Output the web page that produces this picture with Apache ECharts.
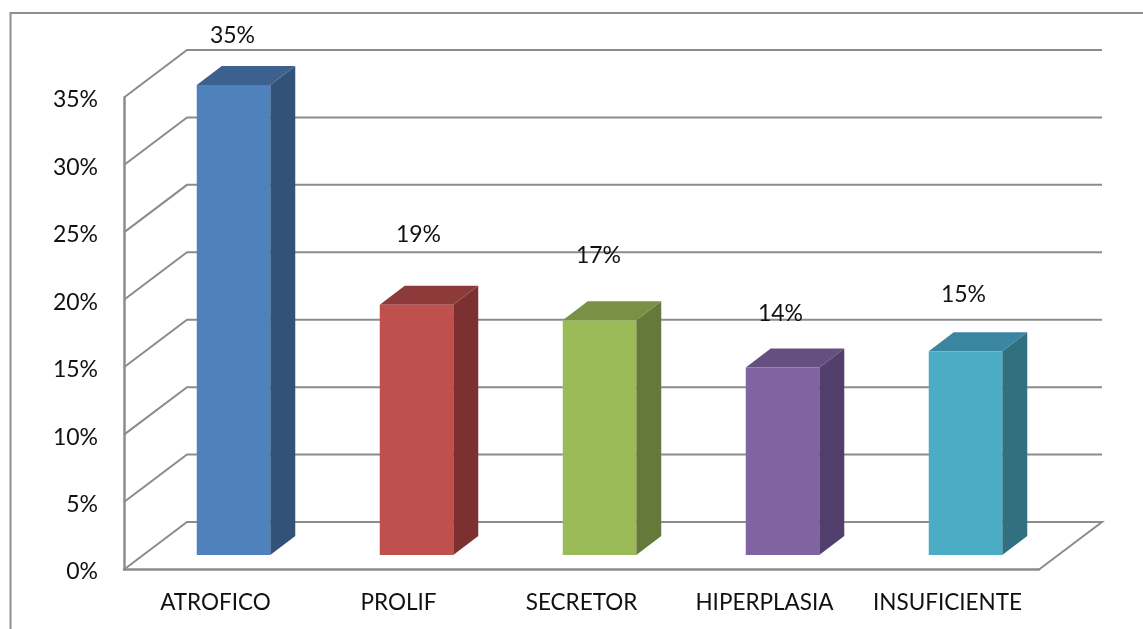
<!DOCTYPE html>
<html><head><meta charset="utf-8">
<style>html,body{margin:0;padding:0;background:#fff}#c{width:1143px;height:629px}</style>
<script src="https://cdn.jsdelivr.net/npm/echarts@6/dist/echarts.min.js"></script>
</head><body><div id="c"></div>
<script>
const categories = ['ATROFICO', 'PROLIF', 'SECRETOR', 'HIPERPLASIA', 'INSUFICIENTE'];
const values = [34.85, 18.55, 17.4, 13.9, 15.1];
const valueLabels = ['35%', '19%', '17%', '14%', '15%'];
const yTicks = [0, 5, 10, 15, 20, 25, 30, 35];

// styles and offsets (not data)
const labelNudge = [[-1, -49.5], [2, -70.5], [-1, -64.5], [-2, -53.5], [-2, -56.5]];
const faces = [
  { front: '#4f81bd', top: '#3c618f', side: '#325278' },
  { front: '#c0504d', top: '#8f3a3a', side: '#7c3130' },
  { front: '#9bbb59', top: '#7a9044', side: '#64793a' },
  { front: '#8064a2', top: '#654e80', side: '#533f6b' },
  { front: '#4bacc6', top: '#3a86a0', side: '#31707f' }
];
const FONT = 'Lato';
const DX = 63, DY = 47.5;          // wall depth
const BAR_IN_X = 18, BAR_IN_Y = 14.5, BAR_W = 73.5, BAR_DX = 25, BAR_DY = 19;
const LINE = '#8c8c8c';

const chart = echarts.init(document.getElementById('c'), null, { renderer: 'canvas' });

function renderWalls(params, api) {
  const v = api.value(0);
  const p = api.coord([0, v]);
  const x0 = params.coordSys.x, x1 = x0 + params.coordSys.width;
  const y = p[1];
  const pts = [[x0, y], [x0 + DX, y - DY], [x1 + DX, y - DY]];
  if (v === 0) pts.push([x1, y]);
  return { type: 'polyline', shape: { points: pts }, silent: true,
    style: { fill: null, stroke: LINE, lineWidth: 2 } };
}

function renderBar(params, api) {
  const i = params.dataIndex;
  const c = api.coord([i, api.value(1)]);
  const base = api.coord([i, 0]);
  const xl = c[0] + BAR_IN_X - BAR_W / 2, xr = xl + BAR_W;
  const yt = c[1] - BAR_IN_Y, yb = base[1] - BAR_IN_Y;
  const f = faces[i];
  const n = labelNudge[i];
  return { type: 'group', children: [
    { type: 'polygon', shape: { points: [[xr, yt], [xr + BAR_DX, yt - BAR_DY], [xr + BAR_DX, yb - BAR_DY], [xr, yb]] },
      style: { fill: f.side } },
    { type: 'polygon', shape: { points: [[xl, yt], [xl + BAR_DX, yt - BAR_DY], [xr + BAR_DX, yt - BAR_DY], [xr, yt]] },
      style: { fill: f.top } },
    { type: 'rect', shape: { x: xl, y: yt, width: BAR_W, height: yb - yt },
      style: { fill: f.front } },
    { type: 'text', x: (xl + xr) / 2 + n[0], y: yt + n[1],
      style: { text: valueLabels[i], fill: '#111', font: '23px ' + FONT, align: 'center', verticalAlign: 'middle' } }
  ] };
}

chart.setOption({
  animation: false,
  backgroundColor: '#fff',
  grid: { left: 124, right: 104, top: 97.5, height: 472 },
  graphic: [{ type: 'polyline', silent: true,
    shape: { points: [[10.5, 629], [10.5, 13], [1143, 13]] },
    style: { fill: null, stroke: '#8e8e8e', lineWidth: 2 } }],
  xAxis: {
    type: 'category', data: categories,
    axisTick: { show: false },
    axisLine: { show: true, lineStyle: { color: LINE, width: 2.5 } },
    axisLabel: { color: '#111', fontFamily: FONT, fontSize: 22.5, margin: 22, interval: 0 },
    splitLine: { show: false }
  },
  yAxis: {
    type: 'value', min: 0, max: 35, interval: 5,
    axisTick: { show: false },
    axisLine: { show: true, lineStyle: { color: LINE, width: 2.5 } },
    axisLabel: {
      color: '#111', fontFamily: FONT, fontSize: 23, margin: 26,
      formatter: v => '{t|' + v + '%}',
      rich: { t: { color: '#111', fontFamily: FONT, fontSize: 23, padding: [5, 0, 0, 0] } }
    },
    splitLine: { show: false }
  },
  series: [
    { type: 'custom', coordinateSystem: 'cartesian2d', renderItem: renderWalls, silent: true, z: 1,
      encode: { y: 0 }, data: yTicks.map(t => [t]) },
    { type: 'custom', coordinateSystem: 'cartesian2d', renderItem: renderBar, silent: true, z: 3,
      encode: { x: 0, y: 1 }, data: values.map((v, i) => [i, v]) }
  ]
});
</script></body></html>
